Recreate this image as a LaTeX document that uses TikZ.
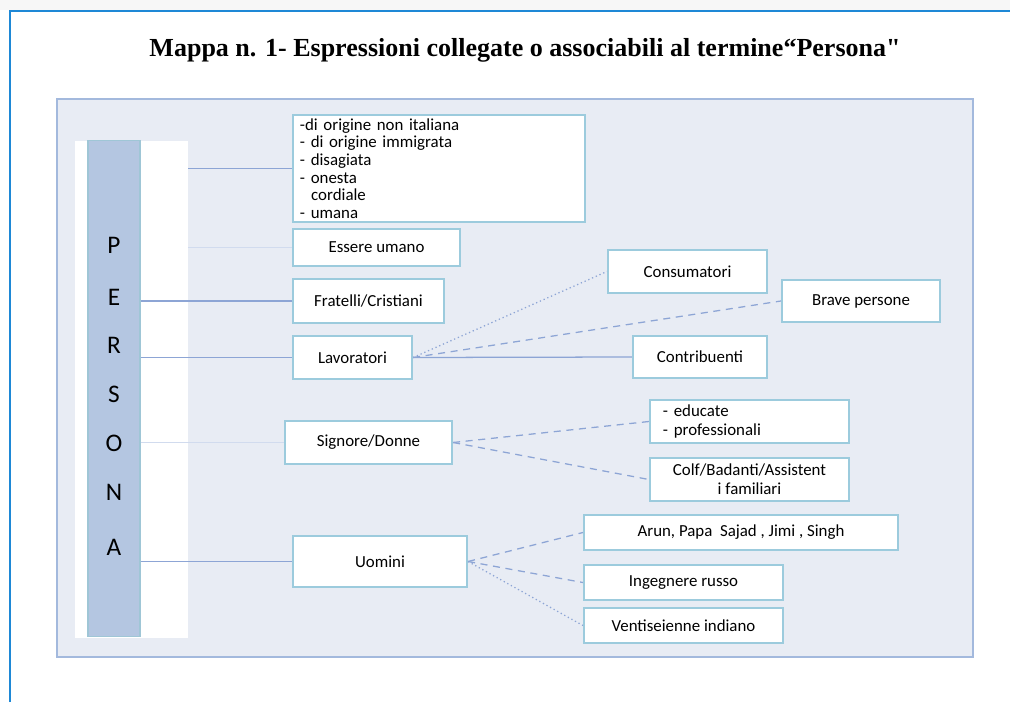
\documentclass[tikz,border=0pt]{standalone}
\usepackage{fontspec}
\setmainfont{Carlito}
\newfontfamily\titlefont{Liberation Serif}
\definecolor{panelfill}{HTML}{E8ECF4}
\definecolor{paneldraw}{HTML}{A3B9DD}
\definecolor{barfill}{HTML}{B4C6E1}
\definecolor{bardraw}{HTML}{9FC6D6}
\definecolor{boxdraw}{HTML}{9CCBDD}
\definecolor{linkcol}{HTML}{8DA5D5}
\definecolor{framecol}{HTML}{1E88D6}
\tikzset{
  box/.style={draw=boxdraw, line width=1.5pt, fill=white, inner sep=1pt,
    font=\fontsize{12}{12.5}\selectfont},
  trunk/.style={draw=linkcol, line width=1.3pt},
  faint/.style={draw=linkcol!40},
  branch/.style={draw=linkcol, line width=0.9pt},
  longdash/.style={dash pattern=on 5pt off 4pt},
  letter/.style={font=\fontsize{18}{18}\selectfont},
}
\begin{document}
\begin{tikzpicture}[x=0.025cm, y=-0.025cm]
		\useasboundingbox (0,0) rectangle (1010,702);
		% cornice
		\fill[black!3] (0,0) rectangle (1010,10);
		\draw[framecol, line width=2pt] (10,702)--(10,11)--(1010,11);
		\node[font=\titlefont\bfseries\fontsize{18.5}{18.5}\selectfont] (titolo) at (525,50)
			{Mappa n. 1- Espressioni collegate o associabili al termine“Persona"};
		% sfondo
		\draw[paneldraw, fill=panelfill, line width=1.5pt] (57,99) rectangle (973,657);
		\node[fill=white, minimum width=2.825cm, minimum height=12.425cm] (strip) at (131.5,389.5) {};
		\node[draw=bardraw, fill=barfill, line width=0.8pt, minimum width=1.3cm, minimum height=12.375cm] (bar) at (114,388.5) {};
		\foreach \l/\y in {P/245,E/297,R/345,S/394,O/443,N/492,A/547}
			\node[letter] (l\l) at (114,\y) {\l};
		% prima colonna
		\node[box, align=left, inner xsep=0.175cm, text width=6.95cm, minimum height=2.675cm] (lista) at (439,168.5)
			{-di origine non italiana\\
			 - di origine immigrata\\
			 - disagiata\\
			 - onesta\\
			 \ \ cordiale\\
			 - umana};
		\node[box, minimum width=4.175cm, minimum height=0.925cm] (essere) at (376.5,247.5) {Essere umano};
		\node[box, minimum width=3.775cm, minimum height=1.1cm] (fratelli) at (368.5,301) {Fratelli/Cristiani};
		\node[box, minimum width=2.975cm, minimum height=1.075cm] (lavoratori) at (352.5,357.5) {Lavoratori};
		\node[box, minimum width=4.175cm, minimum height=1.075cm] (signore) at (368.5,442.5) {Signore/Donne};
		\node[box, minimum width=4.35cm, minimum height=1.275cm] (uomini) at (380,561.5) {Uomini};
		% seconda colonna
		\node[box, minimum width=3.975cm, minimum height=1.075cm] (consumatori) at (687.5,271.5) {Consumatori};
		\node[box, minimum width=3.95cm, minimum height=1.05cm] (brave) at (861,301) {Brave persone};
		\node[box, minimum width=3.35cm, minimum height=1.05cm] (contribuenti) at (700,357) {Contribuenti};
		\node[box, align=left, inner xsep=0.325cm, text width=4.325cm, minimum height=1.075cm,
			font=\fontsize{12}{13.5}\selectfont] (educate) at (749.5,421.5) {- educate\\- professionali};
		\node[box, align=center, minimum width=4.975cm, minimum height=1.075cm,
			font=\fontsize{12}{13.5}\selectfont] (colf) at (749.5,479.5) {Colf/Badanti/Assistent\\i familiari};
		\node[box, minimum width=7.85cm, minimum height=0.875cm] (arun) at (741,532.5) {Arun, Papa \ Sajad , Jimi , Singh};
		\node[box, minimum width=4.975cm, minimum height=0.875cm] (ingegnere) at (683.5,582.5) {Ingegnere russo};
		\node[box, minimum width=4.975cm, minimum height=0.875cm] (venti) at (683.5,625.5) {Ventiseienne indiano};
		% collegamenti
		\draw[trunk] (strip.east |- lista.west)--(lista.west);
		\draw[trunk, faint] (strip.east |- essere.west)--(essere.west);
		\draw[trunk] (bar.east |- fratelli.west)--(fratelli.west);
		\draw[trunk] (bar.east |- lavoratori.west)--(lavoratori.west);
		\draw[trunk, faint] (bar.east |- signore.west)--(signore.west);
		\draw[trunk] (bar.east |- uomini.west)--(uomini.west);
		\draw[branch, dotted] (lavoratori.east)--(consumatori.west);
		\draw[branch, longdash] (lavoratori.east)--(brave.west);
		\draw[branch] (lavoratori.east)--(contribuenti.west);
		\draw[branch, longdash] (signore.east)--(educate.west);
		\draw[branch, longdash] (signore.east)--(colf.west);
		\draw[branch, longdash] (uomini.east)--(arun.west);
		\draw[branch, longdash] (uomini.east)--(ingegnere.west);
		\draw[branch, dotted] (uomini.east)--(venti.west);
    \end{tikzpicture}
\end{document}
